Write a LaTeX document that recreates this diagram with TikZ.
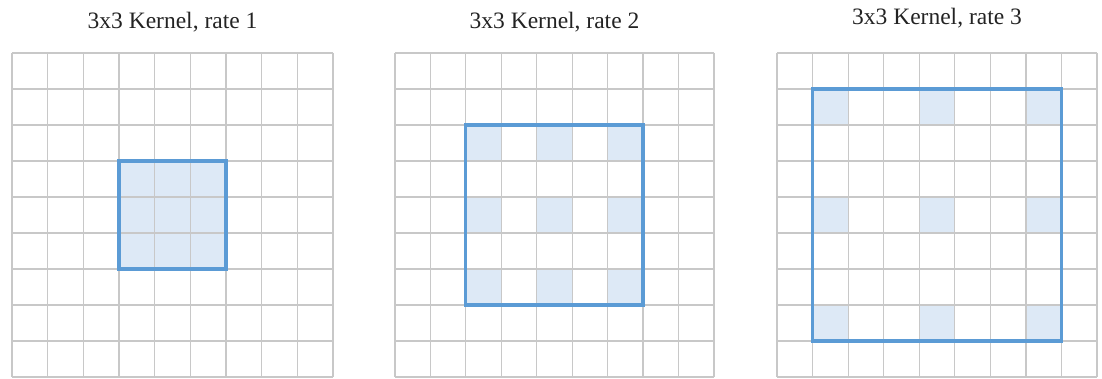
\documentclass[tikz,border=0pt]{standalone}
\usepackage{fontspec}
\setmainfont{Liberation Serif}
\definecolor{gridgray}{RGB}{200,200,200}
\definecolor{kblue}{RGB}{91,155,213}
\definecolor{kfill}{RGB}{221,233,246}
\definecolor{titlecol}{RGB}{35,35,35}
\begin{document}
\begin{tikzpicture}[x=1pt,y=-1pt,
  gridline/.style={draw=gridgray,line width=1.2pt},
  kernel/.style={draw=kblue,line width=3.2pt},
  cellfill/.style={fill=kfill},
  title/.style={font=\fontsize{23.5}{27}\selectfont, text=titlecol, inner sep=0pt, anchor=base}]
\useasboundingbox (0,0) rectangle (1102,379);
\foreach \gx/\gw/\r/\ty/\nm in {12/35.67/1/29/a, 395/35.44/2/29/b, 777/35.56/3/25/c}{
  \pgfmathsetmacro{\cx}{\gx+4.5*\gw}
  \node[title] (title\nm) at (\cx,\ty) {3x3 Kernel, rate \r};
  \foreach \i in {0,1,2}{
    \foreach \j in {0,1,2}{
      \pgfmathsetmacro{\ca}{\gx+(4-\r+\i*\r)*\gw}
      \pgfmathsetmacro{\ra}{53+(4-\r+\j*\r)*36}
      \fill[cellfill] (\ca,\ra) rectangle ++(\gw,36);
    }
  }
  \foreach \k in {0,...,9}{
    \draw[gridline] (\gx+\k*\gw,53) -- (\gx+\k*\gw,377);
    \draw[gridline] (\gx,53+\k*36) -- (\gx+9*\gw,53+\k*36);
  }
  \pgfmathsetmacro{\ka}{\gx+(4-\r)*\gw}
  \pgfmathsetmacro{\kb}{\gx+(5+\r)*\gw}
  \pgfmathsetmacro{\kc}{53+(4-\r)*36}
  \pgfmathsetmacro{\kd}{53+(5+\r)*36}
  \draw[kernel] (\ka,\kc) rectangle (\kb,\kd);
}
\end{tikzpicture}
\end{document}
